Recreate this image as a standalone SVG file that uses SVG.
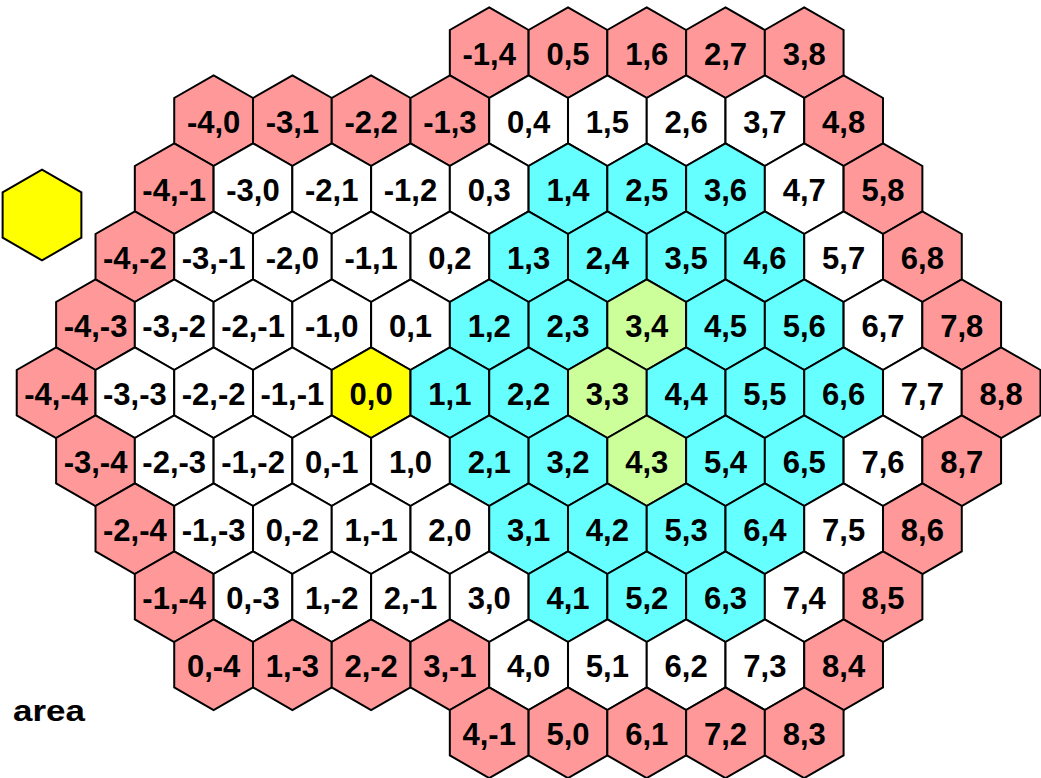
<svg xmlns="http://www.w3.org/2000/svg" xmlns:xlink="http://www.w3.org/1999/xlink" width="1041" height="778" viewBox="0 0 1041 778">
<style>
.hx{stroke:#000;stroke-width:2;stroke-linejoin:miter}
.r{fill:#FF9999}.w{fill:#FFFFFF}.c{fill:#66FFFF}.g{fill:#CCFF99}.y{fill:#FFFF00}
text{font-family:"Liberation Sans",Arial,sans-serif;font-weight:bold;font-size:31px;fill:#000;text-anchor:middle}
</style>
<defs>
<path id="h" d="M0,-45.4 L39.375,-22.7 L39.375,22.7 L0,45.4 L-39.375,22.7 L-39.375,-22.7 Z"/>
</defs>
<rect x="0" y="0" width="1041" height="778" fill="#FFFFFF"/>
<g id="legend">
<use href="#h" xlink:href="#h" class="hx y" transform="translate(42,215)"/>
<text x="13" y="720.5" style="text-anchor:start;font-size:30px" textLength="72" lengthAdjust="spacingAndGlyphs">area</text>
</g>
<g id="grid">
<!-- row d=-5 -->
<g id="n_m1_4" transform="translate(489.2,52.7)"><use href="#h" xlink:href="#h" class="hx r"/><text y="12.5">-1,4</text></g>
<g id="n_0_5" transform="translate(568,52.7)"><use href="#h" xlink:href="#h" class="hx r"/><text y="12.5">0,5</text></g>
<g id="n_1_6" transform="translate(646.7,52.7)"><use href="#h" xlink:href="#h" class="hx r"/><text y="12.5">1,6</text></g>
<g id="n_2_7" transform="translate(725.5,52.7)"><use href="#h" xlink:href="#h" class="hx r"/><text y="12.5">2,7</text></g>
<g id="n_3_8" transform="translate(804.2,52.7)"><use href="#h" xlink:href="#h" class="hx r"/><text y="12.5">3,8</text></g>
<!-- row d=-4 -->
<g id="n_m4_0" transform="translate(213.6,120.7)"><use href="#h" xlink:href="#h" class="hx r"/><text y="12.5">-4,0</text></g>
<g id="n_m3_1" transform="translate(292.4,120.7)"><use href="#h" xlink:href="#h" class="hx r"/><text y="12.5">-3,1</text></g>
<g id="n_m2_2" transform="translate(371.1,120.7)"><use href="#h" xlink:href="#h" class="hx r"/><text y="12.5">-2,2</text></g>
<g id="n_m1_3" transform="translate(449.9,120.7)"><use href="#h" xlink:href="#h" class="hx r"/><text y="12.5">-1,3</text></g>
<g id="n_0_4" transform="translate(528.6,120.7)"><use href="#h" xlink:href="#h" class="hx w"/><text y="12.5">0,4</text></g>
<g id="n_1_5" transform="translate(607.4,120.7)"><use href="#h" xlink:href="#h" class="hx w"/><text y="12.5">1,5</text></g>
<g id="n_2_6" transform="translate(686.1,120.7)"><use href="#h" xlink:href="#h" class="hx w"/><text y="12.5">2,6</text></g>
<g id="n_3_7" transform="translate(764.9,120.7)"><use href="#h" xlink:href="#h" class="hx w"/><text y="12.5">3,7</text></g>
<g id="n_4_8" transform="translate(843.6,120.7)"><use href="#h" xlink:href="#h" class="hx r"/><text y="12.5">4,8</text></g>
<!-- row d=-3 -->
<g id="n_m4_m1" transform="translate(174.2,188.7)"><use href="#h" xlink:href="#h" class="hx r"/><text y="12.5">-4,-1</text></g>
<g id="n_m3_0" transform="translate(253,188.7)"><use href="#h" xlink:href="#h" class="hx w"/><text y="12.5">-3,0</text></g>
<g id="n_m2_1" transform="translate(331.7,188.7)"><use href="#h" xlink:href="#h" class="hx w"/><text y="12.5">-2,1</text></g>
<g id="n_m1_2" transform="translate(410.5,188.7)"><use href="#h" xlink:href="#h" class="hx w"/><text y="12.5">-1,2</text></g>
<g id="n_0_3" transform="translate(489.2,188.7)"><use href="#h" xlink:href="#h" class="hx w"/><text y="12.5">0,3</text></g>
<g id="n_1_4" transform="translate(568,188.7)"><use href="#h" xlink:href="#h" class="hx c"/><text y="12.5">1,4</text></g>
<g id="n_2_5" transform="translate(646.7,188.7)"><use href="#h" xlink:href="#h" class="hx c"/><text y="12.5">2,5</text></g>
<g id="n_3_6" transform="translate(725.5,188.7)"><use href="#h" xlink:href="#h" class="hx c"/><text y="12.5">3,6</text></g>
<g id="n_4_7" transform="translate(804.2,188.7)"><use href="#h" xlink:href="#h" class="hx w"/><text y="12.5">4,7</text></g>
<g id="n_5_8" transform="translate(883,188.7)"><use href="#h" xlink:href="#h" class="hx r"/><text y="12.5">5,8</text></g>
<!-- row d=-2 -->
<g id="n_m4_m2" transform="translate(134.9,256.7)"><use href="#h" xlink:href="#h" class="hx r"/><text y="12.5">-4,-2</text></g>
<g id="n_m3_m1" transform="translate(213.6,256.7)"><use href="#h" xlink:href="#h" class="hx w"/><text y="12.5">-3,-1</text></g>
<g id="n_m2_0" transform="translate(292.4,256.7)"><use href="#h" xlink:href="#h" class="hx w"/><text y="12.5">-2,0</text></g>
<g id="n_m1_1" transform="translate(371.1,256.7)"><use href="#h" xlink:href="#h" class="hx w"/><text y="12.5">-1,1</text></g>
<g id="n_0_2" transform="translate(449.9,256.7)"><use href="#h" xlink:href="#h" class="hx w"/><text y="12.5">0,2</text></g>
<g id="n_1_3" transform="translate(528.6,256.7)"><use href="#h" xlink:href="#h" class="hx c"/><text y="12.5">1,3</text></g>
<g id="n_2_4" transform="translate(607.4,256.7)"><use href="#h" xlink:href="#h" class="hx c"/><text y="12.5">2,4</text></g>
<g id="n_3_5" transform="translate(686.1,256.7)"><use href="#h" xlink:href="#h" class="hx c"/><text y="12.5">3,5</text></g>
<g id="n_4_6" transform="translate(764.9,256.7)"><use href="#h" xlink:href="#h" class="hx c"/><text y="12.5">4,6</text></g>
<g id="n_5_7" transform="translate(843.6,256.7)"><use href="#h" xlink:href="#h" class="hx w"/><text y="12.5">5,7</text></g>
<g id="n_6_8" transform="translate(922.4,256.7)"><use href="#h" xlink:href="#h" class="hx r"/><text y="12.5">6,8</text></g>
<!-- row d=-1 -->
<g id="n_m4_m3" transform="translate(95.5,324.7)"><use href="#h" xlink:href="#h" class="hx r"/><text y="12.5">-4,-3</text></g>
<g id="n_m3_m2" transform="translate(174.2,324.7)"><use href="#h" xlink:href="#h" class="hx w"/><text y="12.5">-3,-2</text></g>
<g id="n_m2_m1" transform="translate(253,324.7)"><use href="#h" xlink:href="#h" class="hx w"/><text y="12.5">-2,-1</text></g>
<g id="n_m1_0" transform="translate(331.7,324.7)"><use href="#h" xlink:href="#h" class="hx w"/><text y="12.5">-1,0</text></g>
<g id="n_0_1" transform="translate(410.5,324.7)"><use href="#h" xlink:href="#h" class="hx w"/><text y="12.5">0,1</text></g>
<g id="n_1_2" transform="translate(489.2,324.7)"><use href="#h" xlink:href="#h" class="hx c"/><text y="12.5">1,2</text></g>
<g id="n_2_3" transform="translate(568,324.7)"><use href="#h" xlink:href="#h" class="hx c"/><text y="12.5">2,3</text></g>
<g id="n_3_4" transform="translate(646.7,324.7)"><use href="#h" xlink:href="#h" class="hx g"/><text y="12.5">3,4</text></g>
<g id="n_4_5" transform="translate(725.5,324.7)"><use href="#h" xlink:href="#h" class="hx c"/><text y="12.5">4,5</text></g>
<g id="n_5_6" transform="translate(804.2,324.7)"><use href="#h" xlink:href="#h" class="hx c"/><text y="12.5">5,6</text></g>
<g id="n_6_7" transform="translate(883,324.7)"><use href="#h" xlink:href="#h" class="hx w"/><text y="12.5">6,7</text></g>
<g id="n_7_8" transform="translate(961.7,324.7)"><use href="#h" xlink:href="#h" class="hx r"/><text y="12.5">7,8</text></g>
<!-- row d=0 -->
<g id="n_m4_m4" transform="translate(56.1,392.7)"><use href="#h" xlink:href="#h" class="hx r"/><text y="12.5">-4,-4</text></g>
<g id="n_m3_m3" transform="translate(134.9,392.7)"><use href="#h" xlink:href="#h" class="hx w"/><text y="12.5">-3,-3</text></g>
<g id="n_m2_m2" transform="translate(213.6,392.7)"><use href="#h" xlink:href="#h" class="hx w"/><text y="12.5">-2,-2</text></g>
<g id="n_m1_m1" transform="translate(292.4,392.7)"><use href="#h" xlink:href="#h" class="hx w"/><text y="12.5">-1,-1</text></g>
<g id="n_0_0" transform="translate(371.1,392.7)"><use href="#h" xlink:href="#h" class="hx y"/><text y="12.5">0,0</text></g>
<g id="n_1_1" transform="translate(449.9,392.7)"><use href="#h" xlink:href="#h" class="hx c"/><text y="12.5">1,1</text></g>
<g id="n_2_2" transform="translate(528.6,392.7)"><use href="#h" xlink:href="#h" class="hx c"/><text y="12.5">2,2</text></g>
<g id="n_3_3" transform="translate(607.4,392.7)"><use href="#h" xlink:href="#h" class="hx g"/><text y="12.5">3,3</text></g>
<g id="n_4_4" transform="translate(686.1,392.7)"><use href="#h" xlink:href="#h" class="hx c"/><text y="12.5">4,4</text></g>
<g id="n_5_5" transform="translate(764.9,392.7)"><use href="#h" xlink:href="#h" class="hx c"/><text y="12.5">5,5</text></g>
<g id="n_6_6" transform="translate(843.6,392.7)"><use href="#h" xlink:href="#h" class="hx c"/><text y="12.5">6,6</text></g>
<g id="n_7_7" transform="translate(922.4,392.7)"><use href="#h" xlink:href="#h" class="hx w"/><text y="12.5">7,7</text></g>
<g id="n_8_8" transform="translate(1001.1,392.7)"><use href="#h" xlink:href="#h" class="hx r"/><text y="12.5">8,8</text></g>
<!-- row d=1 -->
<g id="n_m3_m4" transform="translate(95.5,460.7)"><use href="#h" xlink:href="#h" class="hx r"/><text y="12.5">-3,-4</text></g>
<g id="n_m2_m3" transform="translate(174.2,460.7)"><use href="#h" xlink:href="#h" class="hx w"/><text y="12.5">-2,-3</text></g>
<g id="n_m1_m2" transform="translate(253,460.7)"><use href="#h" xlink:href="#h" class="hx w"/><text y="12.5">-1,-2</text></g>
<g id="n_0_m1" transform="translate(331.7,460.7)"><use href="#h" xlink:href="#h" class="hx w"/><text y="12.5">0,-1</text></g>
<g id="n_1_0" transform="translate(410.5,460.7)"><use href="#h" xlink:href="#h" class="hx w"/><text y="12.5">1,0</text></g>
<g id="n_2_1" transform="translate(489.2,460.7)"><use href="#h" xlink:href="#h" class="hx c"/><text y="12.5">2,1</text></g>
<g id="n_3_2" transform="translate(568,460.7)"><use href="#h" xlink:href="#h" class="hx c"/><text y="12.5">3,2</text></g>
<g id="n_4_3" transform="translate(646.7,460.7)"><use href="#h" xlink:href="#h" class="hx g"/><text y="12.5">4,3</text></g>
<g id="n_5_4" transform="translate(725.5,460.7)"><use href="#h" xlink:href="#h" class="hx c"/><text y="12.5">5,4</text></g>
<g id="n_6_5" transform="translate(804.2,460.7)"><use href="#h" xlink:href="#h" class="hx c"/><text y="12.5">6,5</text></g>
<g id="n_7_6" transform="translate(883,460.7)"><use href="#h" xlink:href="#h" class="hx w"/><text y="12.5">7,6</text></g>
<g id="n_8_7" transform="translate(961.7,460.7)"><use href="#h" xlink:href="#h" class="hx r"/><text y="12.5">8,7</text></g>
<!-- row d=2 -->
<g id="n_m2_m4" transform="translate(134.9,528.7)"><use href="#h" xlink:href="#h" class="hx r"/><text y="12.5">-2,-4</text></g>
<g id="n_m1_m3" transform="translate(213.6,528.7)"><use href="#h" xlink:href="#h" class="hx w"/><text y="12.5">-1,-3</text></g>
<g id="n_0_m2" transform="translate(292.4,528.7)"><use href="#h" xlink:href="#h" class="hx w"/><text y="12.5">0,-2</text></g>
<g id="n_1_m1" transform="translate(371.1,528.7)"><use href="#h" xlink:href="#h" class="hx w"/><text y="12.5">1,-1</text></g>
<g id="n_2_0" transform="translate(449.9,528.7)"><use href="#h" xlink:href="#h" class="hx w"/><text y="12.5">2,0</text></g>
<g id="n_3_1" transform="translate(528.6,528.7)"><use href="#h" xlink:href="#h" class="hx c"/><text y="12.5">3,1</text></g>
<g id="n_4_2" transform="translate(607.4,528.7)"><use href="#h" xlink:href="#h" class="hx c"/><text y="12.5">4,2</text></g>
<g id="n_5_3" transform="translate(686.1,528.7)"><use href="#h" xlink:href="#h" class="hx c"/><text y="12.5">5,3</text></g>
<g id="n_6_4" transform="translate(764.9,528.7)"><use href="#h" xlink:href="#h" class="hx c"/><text y="12.5">6,4</text></g>
<g id="n_7_5" transform="translate(843.6,528.7)"><use href="#h" xlink:href="#h" class="hx w"/><text y="12.5">7,5</text></g>
<g id="n_8_6" transform="translate(922.4,528.7)"><use href="#h" xlink:href="#h" class="hx r"/><text y="12.5">8,6</text></g>
<!-- row d=3 -->
<g id="n_m1_m4" transform="translate(174.2,596.7)"><use href="#h" xlink:href="#h" class="hx r"/><text y="12.5">-1,-4</text></g>
<g id="n_0_m3" transform="translate(253,596.7)"><use href="#h" xlink:href="#h" class="hx w"/><text y="12.5">0,-3</text></g>
<g id="n_1_m2" transform="translate(331.7,596.7)"><use href="#h" xlink:href="#h" class="hx w"/><text y="12.5">1,-2</text></g>
<g id="n_2_m1" transform="translate(410.5,596.7)"><use href="#h" xlink:href="#h" class="hx w"/><text y="12.5">2,-1</text></g>
<g id="n_3_0" transform="translate(489.2,596.7)"><use href="#h" xlink:href="#h" class="hx w"/><text y="12.5">3,0</text></g>
<g id="n_4_1" transform="translate(568,596.7)"><use href="#h" xlink:href="#h" class="hx c"/><text y="12.5">4,1</text></g>
<g id="n_5_2" transform="translate(646.7,596.7)"><use href="#h" xlink:href="#h" class="hx c"/><text y="12.5">5,2</text></g>
<g id="n_6_3" transform="translate(725.5,596.7)"><use href="#h" xlink:href="#h" class="hx c"/><text y="12.5">6,3</text></g>
<g id="n_7_4" transform="translate(804.2,596.7)"><use href="#h" xlink:href="#h" class="hx w"/><text y="12.5">7,4</text></g>
<g id="n_8_5" transform="translate(883,596.7)"><use href="#h" xlink:href="#h" class="hx r"/><text y="12.5">8,5</text></g>
<!-- row d=4 -->
<g id="n_0_m4" transform="translate(213.6,664.7)"><use href="#h" xlink:href="#h" class="hx r"/><text y="12.5">0,-4</text></g>
<g id="n_1_m3" transform="translate(292.4,664.7)"><use href="#h" xlink:href="#h" class="hx r"/><text y="12.5">1,-3</text></g>
<g id="n_2_m2" transform="translate(371.1,664.7)"><use href="#h" xlink:href="#h" class="hx r"/><text y="12.5">2,-2</text></g>
<g id="n_3_m1" transform="translate(449.9,664.7)"><use href="#h" xlink:href="#h" class="hx r"/><text y="12.5">3,-1</text></g>
<g id="n_4_0" transform="translate(528.6,664.7)"><use href="#h" xlink:href="#h" class="hx w"/><text y="12.5">4,0</text></g>
<g id="n_5_1" transform="translate(607.4,664.7)"><use href="#h" xlink:href="#h" class="hx w"/><text y="12.5">5,1</text></g>
<g id="n_6_2" transform="translate(686.1,664.7)"><use href="#h" xlink:href="#h" class="hx w"/><text y="12.5">6,2</text></g>
<g id="n_7_3" transform="translate(764.9,664.7)"><use href="#h" xlink:href="#h" class="hx w"/><text y="12.5">7,3</text></g>
<g id="n_8_4" transform="translate(843.6,664.7)"><use href="#h" xlink:href="#h" class="hx r"/><text y="12.5">8,4</text></g>
<!-- row d=5 -->
<g id="n_4_m1" transform="translate(489.2,732.7)"><use href="#h" xlink:href="#h" class="hx r"/><text y="12.5">4,-1</text></g>
<g id="n_5_0" transform="translate(568,732.7)"><use href="#h" xlink:href="#h" class="hx r"/><text y="12.5">5,0</text></g>
<g id="n_6_1" transform="translate(646.7,732.7)"><use href="#h" xlink:href="#h" class="hx r"/><text y="12.5">6,1</text></g>
<g id="n_7_2" transform="translate(725.5,732.7)"><use href="#h" xlink:href="#h" class="hx r"/><text y="12.5">7,2</text></g>
<g id="n_8_3" transform="translate(804.2,732.7)"><use href="#h" xlink:href="#h" class="hx r"/><text y="12.5">8,3</text></g>
</g>
</svg>
